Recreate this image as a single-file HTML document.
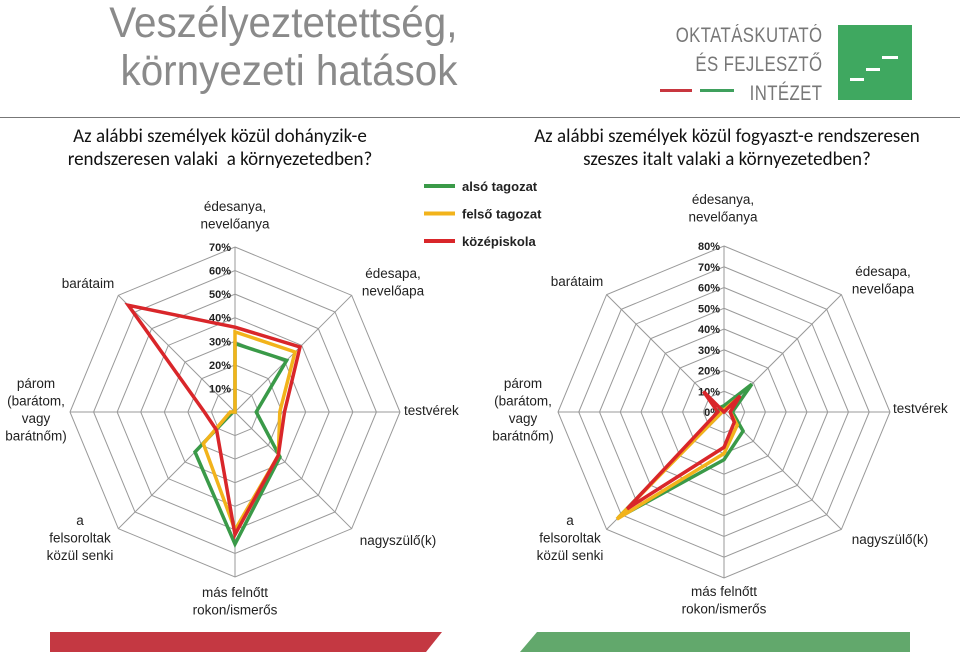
<!DOCTYPE html>
<html><head><meta charset="utf-8">
<style>
body{margin:0;width:960px;height:653px;overflow:hidden;background:#fff;font-family:"Liberation Sans",sans-serif;position:relative}
.t{position:absolute;color:#8a8a8a;font-size:43px;line-height:48px;right:503px;text-align:right;white-space:nowrap;transform:scaleX(0.94);transform-origin:right top}
.q{position:absolute;font-size:19px;line-height:23px;text-align:center;color:#111;font-family:"Carlito","Liberation Sans",sans-serif}
.logo{position:absolute;color:#777;font-size:21px;line-height:29px;letter-spacing:0.5px;text-align:right;white-space:nowrap;font-family:"Liberation Sans Narrow","Liberation Sans",sans-serif;transform:scaleX(0.8);transform-origin:right top}
</style></head><body>
<div class="t" style="top:-1px">Veszélyeztetettség,<br>környezeti hatások</div>
<div class="logo" style="right:138px;top:21px">OKTATÁSKUTATÓ<br>ÉS FEJLESZTŐ<br>INTÉZET</div>
<div style="position:absolute;left:660px;top:89px;width:32px;height:3px;background:#c8363f"></div>
<div style="position:absolute;left:700px;top:89px;width:34px;height:3px;background:#3fa05d"></div>
<div style="position:absolute;left:838px;top:25px;width:74px;height:75px;background:#3fa860">
<div style="position:absolute;left:12px;top:53px;width:14px;height:3px;background:#fff"></div>
<div style="position:absolute;left:28px;top:43px;width:14px;height:3px;background:#fff"></div>
<div style="position:absolute;left:44px;top:31px;width:16px;height:3px;background:#fff"></div>
</div>
<div style="position:absolute;left:0;top:117px;width:960px;height:1px;background:#777"></div>
<div class="q" style="left:20px;top:125px;width:400px">Az alábbi személyek közül dohányzik-e<br>rendszeresen valaki&nbsp; a környezetedben?</div>
<div class="q" style="left:497px;top:125px;width:460px">Az alábbi személyek közül fogyaszt-e rendszeresen<br>szeszes italt valaki a környezetedben?</div>
<svg width="960" height="653" style="position:absolute;left:0;top:0" id="svg">
<polygon points="50,632 442,632 426,652 50,652" fill="#c43842"/>
<polygon points="537,632 910,632 910,652 520,652" fill="#62a86c"/>
</svg>
<script>
const axes=["édesanya, nevelőanya","édesapa, nevelőapa","testvérek","nagyszülő(k)","más felnőtt rokon/ismerős","a felsoroltak közül senki","párom (barátom, vagy barátnőm)","barátaim"];
const seriesNames=["alsó tagozat","felső tagozat","középiskola"];
const smokeAlso=[29,31,9,27,56,24,1,0];
const smokeFelso=[34,36,19,26,50,19,2,0];
const smokeKozep=[36,39,21,26,52,11,13,64];
const drinkAlso=[3,19,4,13,23,72,2,3];
const drinkFelso=[1,9,3,9,20,73,1,2];
const drinkKozep=[0,11,3,7,17,66,3,14];
const smokeTicks=["10%","20%","30%","40%","50%","60%","70%"];
const drinkTicks=["0%","10%","20%","30%","40%","50%","60%","70%","80%"];
const colors=["#3a9a48","#f2b31b","#d9262a"];
const svg=document.getElementById('svg');
const NS="http://www.w3.org/2000/svg";
function mk(t,a){const e=document.createElementNS(NS,t);for(const k in a)e.setAttribute(k,a[k]);svg.appendChild(e);return e;}
function radar(cx,cy,R,max,ticks,series,prefix,labels){
  const pt=(i,v)=>{const a=i*Math.PI/4;const r=v/max*R;return [cx+r*Math.sin(a),cy-r*Math.cos(a)];};
  for(let k=1;k<=max/10;k++){
    const p=axes.map((_,i)=>pt(i,k*10).join(',')).join(' ');
    const e=mk('polygon',{points:p,fill:'none',stroke:'#999','stroke-width':1});
    
    
  }
  axes.forEach((_,i)=>{const [x,y]=pt(i,max);const e=mk('line',{x1:cx,y1:cy,x2:x,y2:y,stroke:'#999','stroke-width':1});
    
    });
  ticks.forEach(t=>{const v=parseFloat(t);const e=mk('text',{x:cx-4,y:cy-v/max*R+4,'text-anchor':'end','font-size':11,fill:'#222','font-weight':'bold'});e.textContent=t;
    
    });
  series.forEach((s,j)=>{const p=s.map((v,i)=>pt(i,v).join(',')).join(' ');
    const e=mk('polygon',{points:p,fill:'none',stroke:colors[j],'stroke-width':3.5,'stroke-linejoin':'miter'});
    
    });
  labels.forEach(l=>{l[3].forEach((line,k)=>{const e=mk('text',{x:l[0],y:l[1]+k*17.5,'text-anchor':l[2],'font-size':13.5,fill:'#222'});e.textContent=line;
    
    });});
}
radar(235,412,165,70,smokeTicks,[smokeAlso,smokeFelso,smokeKozep],'smoking',[
 [235,211,'middle',["édesanya,","nevelőanya"]],[393,278,'middle',["édesapa,","nevelőapa"]],
 [404,415,'start',["testvérek"]],[398,545,'middle',["nagyszülő(k)"]],
 [235,597,'middle',["más felnőtt","rokon/ismerős"]],[80,525,'middle',["a","felsoroltak","közül senki"]],
 [36,388,'middle',["párom","(barátom,","vagy","barátnőm)"]],[88,288,'middle',["barátaim"]]]);
radar(724,412,166,80,drinkTicks,[drinkAlso,drinkFelso,drinkKozep],'drinking',[
 [723,204,'middle',["édesanya,","nevelőanya"]],[883,276,'middle',["édesapa,","nevelőapa"]],
 [893,413,'start',["testvérek"]],[890,544,'middle',["nagyszülő(k)"]],
 [724,596,'middle',["más felnőtt","rokon/ismerős"]],[570,525,'middle',["a","felsoroltak","közül senki"]],
 [523,388,'middle',["párom","(barátom,","vagy","barátnőm)"]],[577,286,'middle',["barátaim"]]]);
seriesNames.forEach((n,j)=>{const y=186+j*27.5;
  const l=mk('line',{x1:424,y1:y,x2:455,y2:y,stroke:colors[j],'stroke-width':4});
  
  
  const t=mk('text',{x:462,y:y+5,'font-size':13,'font-weight':'bold',fill:'#222'});t.textContent=n;
  
  });
</script>
</body></html>
